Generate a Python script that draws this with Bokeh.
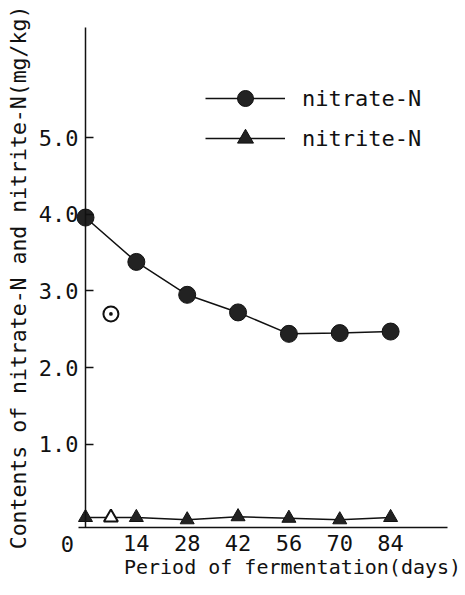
from bokeh.plotting import figure
from bokeh.models import Range1d, FixedTicker, Legend, LegendItem, Label, PrintfTickFormatter
from bokeh.embed import file_html
from bokeh.resources import INLINE

# ---- data ----
days = [0, 14, 28, 42, 56, 70, 84]
nitrate_n = [3.96, 3.38, 2.95, 2.72, 2.44, 2.45, 2.47]
nitrite_n = [0.04, 0.04, 0.01, 0.05, 0.03, 0.01, 0.04]
extra_day = [7]
extra_nitrate_n = [2.70]
extra_nitrite_n = [0.04]
x_ticks = [14, 28, 42, 56, 70, 84]
y_ticks = [1.0, 2.0, 3.0, 4.0, 5.0]
origin_label = "0"
x_title = "Period of fermentation(days)"
y_title = "Contents of nitrate-N and nitrite-N(mg/kg)"
series_names = ["nitrate-N", "nitrite-N"]

FONT = "DejaVu Sans Mono"
INK = "#111111"

# the frame fills the page; axes are drawn at fixed positions inside it
X_AXIS_AT = -0.09
X_BOUNDS = (-1.9, 99.7)
Y_BOUNDS = (-0.09, 6.446)

p = figure(width=465, height=595, output_backend="svg", toolbar_location=None,
           x_range=Range1d(-23.40, 104.62), y_range=Range1d(-0.980, 6.797),
           min_border_left=0, min_border_right=0, min_border_top=0, min_border_bottom=0)
p.outline_line_color = None
p.grid.visible = False
p.background_fill_color = "white"
p.border_fill_color = "white"

# x axis
xa = p.xaxis[0]
xa.fixed_location = X_AXIS_AT
xa.bounds = X_BOUNDS
xa.ticker = FixedTicker(ticks=x_ticks)
xa.major_tick_in = 0
xa.major_tick_out = 0
xa.minor_tick_line_color = None
xa.major_label_standoff = 8
xa.major_label_text_font = FONT
xa.major_label_text_font_size = "22px"
xa.major_label_text_color = INK
xa.axis_line_color = INK
xa.axis_line_width = 1.5

# y axis placed at day 0
ya = p.yaxis[0]
ya.fixed_location = 0
ya.bounds = Y_BOUNDS
ya.ticker = FixedTicker(ticks=y_ticks)
ya.formatter = PrintfTickFormatter(format="%.1f")
ya.major_tick_in = 8
ya.major_tick_out = 0
ya.major_tick_line_width = 1.5
ya.major_tick_line_color = INK
ya.minor_tick_line_color = None
ya.major_label_standoff = 7
ya.major_label_text_font = FONT
ya.major_label_text_font_size = "22px"
ya.major_label_text_color = INK
ya.axis_line_color = INK
ya.axis_line_width = 1.5
ya.axis_label = y_title
ya.axis_label_standoff = 5
ya.axis_label_text_font = FONT
ya.axis_label_text_font_size = "21.5px"
ya.axis_label_text_font_style = "normal"
ya.axis_label_text_color = INK

# series
l1 = p.line(days, nitrate_n, line_color=INK, line_width=1.5)
s1 = p.scatter(days, nitrate_n, marker="circle", size=17, fill_color="#222222", line_color=INK, line_width=1)
l2 = p.line(days, nitrite_n, line_color=INK, line_width=1.5)
s2 = p.scatter(days, nitrite_n, marker="triangle", size=14, fill_color="#222222", line_color=INK, line_width=1)
p.scatter(extra_day, extra_nitrate_n, marker="circle_dot", size=15, fill_color="white", line_color=INK, line_width=2)
p.scatter(extra_day, extra_nitrite_n, marker="triangle", size=14, fill_color="white", line_color=INK, line_width=2)

legend = Legend(items=[LegendItem(label=series_names[0], renderers=[l1, s1]),
                       LegendItem(label=series_names[1], renderers=[l2, s2])],
                location=(205, 437), orientation="vertical",
                glyph_width=80, glyph_height=40, label_height=20, spacing=-10,
                padding=0, margin=0, label_standoff=17,
                border_line_color=None, background_fill_alpha=0,
                label_text_font=FONT, label_text_font_size="22px", label_text_color=INK)
p.add_layout(legend)

p.add_layout(Label(x=0, y=0, x_offset=-18, y_offset=-23, text=origin_label,
                   text_font=FONT, text_font_size="22px", text_color=INK,
                   text_align="center", text_baseline="middle"))
p.add_layout(Label(x=57.0, y=-0.614, text=x_title,
                   text_font=FONT, text_font_size="20px", text_color=INK,
                   text_align="center", text_baseline="middle"))

open("out.html", "w").write(file_html(p, INLINE))
